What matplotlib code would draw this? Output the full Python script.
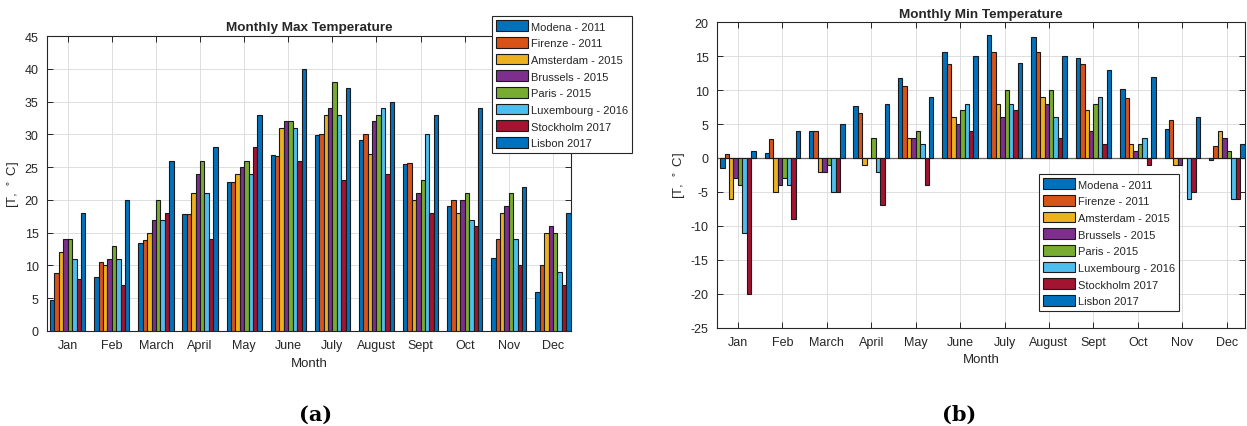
import matplotlib
matplotlib.use('Agg')
import matplotlib.pyplot as plt
import numpy as np

plt.rcParams['font.family'] = ['Liberation Sans', 'DejaVu Sans']
plt.rcParams['text.color'] = '#262626'
plt.rcParams['axes.labelcolor'] = '#262626'
plt.rcParams['xtick.color'] = '#262626'
plt.rcParams['ytick.color'] = '#262626'
plt.rcParams['axes.unicode_minus'] = False

months = ['Jan', 'Feb', 'March', 'April', 'May', 'June', 'July', 'August',
          'Sept', 'Oct', 'Nov', 'Dec']
cities = ['Modena - 2011', 'Firenze - 2011', 'Amsterdam - 2015', 'Brussels - 2015',
          'Paris - 2015', 'Luxembourg - 2016', 'Stockholm 2017', 'Lisbon 2017']
colors = ['#0072BD', '#D95319', '#EDB120', '#7E2F8E', '#77AC30', '#4DBEEE',
          '#A2142F', '#0072BD']

# monthly max temperatures
max_modena = [4.8, 8.2, 13.4, 17.8, 22.7, 26.8, 29.9, 29.2, 25.4, 19.0, 11.1, 5.9]
max_firenze = [8.9, 10.6, 13.9, 17.8, 22.8, 26.7, 30.0, 30.0, 25.6, 20.0, 14.0, 10.0]
max_amsterdam = [12, 10, 15, 21, 24, 31, 33, 27, 20, 18, 18, 15]
max_brussels = [14, 11, 17, 24, 25, 32, 34, 32, 21, 20, 19, 16]
max_paris = [14, 13, 20, 26, 26, 32, 38, 33, 23, 21, 21, 15]
max_luxembourg = [11, 11, 17, 21, 24, 31, 33, 34, 30, 17, 14, 9]
max_stockholm = [8, 7, 18, 14, 28, 26, 23, 24, 18, 16, 10, 7]
max_lisbon = [18, 20, 26, 28, 33, 40, 37, 35, 33, 34, 22, 18]

# monthly min temperatures
min_modena = [-1.5, 0.8, 3.9, 7.6, 11.8, 15.6, 18.2, 17.9, 14.8, 10.1, 4.3, -0.3]
min_firenze = [0.6, 2.8, 3.9, 6.7, 10.6, 13.9, 15.6, 15.6, 13.9, 8.9, 5.6, 1.7]
min_amsterdam = [-6, -5, -2, -1, 3, 6, 8, 9, 7, 2, -1, 4]
min_brussels = [-3, -4, -2, 0, 3, 5, 6, 8, 4, 1, -1, 3]
min_paris = [-4, -3, -1, 3, 4, 7, 10, 10, 8, 2, 0, 1]
min_luxembourg = [-11, -4, -5, -2, 2, 8, 8, 6, 9, 3, -6, -6]
min_stockholm = [-20, -9, -5, -7, -4, 4, 7, 3, 2, -1, -5, -6]
min_lisbon = [1, 4, 5, 8, 9, 15, 14, 15, 13, 12, 6, 2]

max_series = [max_modena, max_firenze, max_amsterdam, max_brussels, max_paris,
              max_luxembourg, max_stockholm, max_lisbon]
min_series = [min_modena, min_firenze, min_amsterdam, min_brussels, min_paris,
              min_luxembourg, min_stockholm, min_lisbon]


def draw_bars(ax, series, title, ylim, yticks):
    x = np.arange(1, len(months) + 1)
    w = 0.1
    handles = []
    for i, vals in enumerate(series):
        b = ax.bar(x + (i - 3.5) * w, vals, width=w, color=colors[i],
                   edgecolor='#1a1a1a', linewidth=0.8, zorder=3)
        handles.append(b)
    ax.set_xlim(0.53, 12.41)
    ax.set_ylim(*ylim)
    ax.set_xticks(x)
    ax.set_xticklabels(months)
    ax.set_yticks(yticks)
    ax.set_axisbelow(True)
    ax.grid(True, color='#dedede', linewidth=0.7)
    ax.tick_params(direction='in', top=True, right=True, length=4, width=0.7,
                   labelsize=9, pad=6)
    for s in ax.spines.values():
        s.set_color('#262626')
        s.set_linewidth(0.8)
    ax.set_xlabel('Month', fontsize=9.5, labelpad=4)
    ax.set_ylabel(r'[T, $^\circ$ C]', fontsize=9.5, labelpad=2)
    ax.set_title(title, fontsize=9.7, fontweight='bold', pad=4)
    return handles


fig = plt.figure(figsize=(12.47, 4.27), dpi=100)
ax1 = fig.add_axes([47 / 1247, 1 - 332 / 427, 524 / 1247, 295 / 427])
ax2 = fig.add_axes([717 / 1247, 1 - 328.5 / 427, 528 / 1247, 305.2 / 427])

h1 = draw_bars(ax1, max_series, 'Monthly Max Temperature', (0, 45), np.arange(0, 46, 5))
h2 = draw_bars(ax2, min_series, 'Monthly Min Temperature', (-25, 20), np.arange(-25, 21, 5))
ax2.axhline(0, color='#666666', linewidth=0.9, zorder=2.5)

leg_kw = dict(fontsize=8, handlelength=2.8, handleheight=1.1, labelspacing=0.5,
              handletextpad=0.3, borderpad=0.4, borderaxespad=0, fancybox=False,
              framealpha=1, edgecolor='#262626', loc='upper left',
              bbox_transform=fig.transFigure)
l1 = ax1.legend(h1, cities, bbox_to_anchor=(492 / 1247, 1 - 17 / 427), **leg_kw)
l2 = ax2.legend(h2, cities, bbox_to_anchor=(1039 / 1247, 1 - 175 / 427), **leg_kw)
for l in (l1, l2):
    l.get_frame().set_linewidth(0.8)
    l.set_zorder(10)

fig.text(316 / 1247, 1 - 415 / 427, '(a)', fontsize=15, fontweight='bold',
         family='DejaVu Serif', ha='center', va='center', color='black')
fig.text(959 / 1247, 1 - 415 / 427, '(b)', fontsize=15, fontweight='bold',
         family='DejaVu Serif', ha='center', va='center', color='black')

fig.savefig('out.png', dpi=100)
